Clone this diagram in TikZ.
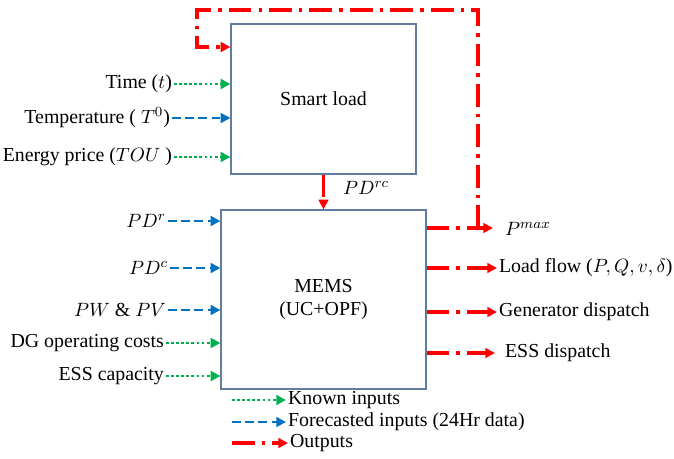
\documentclass[tikz,border=0pt]{standalone}
\usepackage{fontspec}
\setmainfont{Liberation Serif}
\newfontfamily\tnrfont{Liberation Serif}
\usetikzlibrary{arrows.meta,positioning}

\definecolor{knowngreen}{RGB}{0,176,80}
\definecolor{fcblue}{RGB}{0,112,192}
\definecolor{outred}{RGB}{255,0,0}
\definecolor{boxline}{RGB}{96,124,158}

\tikzset{
  every node/.style={font=\tnrfont\fontsize{11.3}{13.5}\selectfont, inner sep=1pt},
  blockbox/.style={draw=boxline, line width=0.7pt, fill=white, inner sep=0pt},
  tip/.style={-{Triangle[length=5.5pt,width=5.5pt]}},
  known/.style={tip, knowngreen, line width=1.6pt, dash pattern=on 1.6pt off 1.3pt},
  forecast/.style={tip, fcblue, line width=1.6pt, dash pattern=on 5pt off 2.5pt},
  output/.style={tip, outred, line width=1.8pt, dash pattern=on 13pt off 4pt on 2pt off 4pt},
  feedback/.style={outred, line width=1.8pt, dash pattern=on 13pt off 4pt on 2pt off 4pt},
}

\begin{document}
\begin{tikzpicture}[x=0.02cm,y=-0.02cm]
      \useasboundingbox (0,0) rectangle (674,458);

        \node[blockbox, minimum width=3.7cm, minimum height=3cm] (sl) at (323.5,99) {Smart load};
        \node[blockbox, minimum width=4.1cm, minimum height=3.58cm, align=center] (mems) at (323.5,299.5) {MEMS\\(UC+OPF)};

        % smart load inputs
        \node[anchor=east] (i1) at (174,84) {Time ($t$)};
        \node[anchor=east] (i2) at (172,118) {Temperature ( $T^{0}$)};
        \node[anchor=east] (i3) at (174,157) {Energy price ($TOU$ )};

        \draw[known] (i1.east) -- (i1.east -| sl.west);
        \draw[forecast] (i2.east) -- (i2.east -| sl.west);
        \draw[known] (i3.east) -- (i3.east -| sl.west);

        % mems inputs
        \node[anchor=east] (m1) at (168,221) {$PD^{r}$};
        \node[anchor=east] (m2) at (170,268) {$PD^{c}$};
        \node[anchor=east] (m3) at (168,310) {$PW$ \& $PV$};
        \node[anchor=east] (m4) at (166,343) {DG operating costs};
        \node[anchor=east] (m5) at (166,376) {ESS capacity};

        \draw[forecast] (m1.east) -- (m1.east -| mems.west);
        \draw[forecast] (m2.east) -- (m2.east -| mems.west);
        \draw[forecast] (m3.east) -- (m3.east -| mems.west);
        \draw[known] (m4.east) -- (m4.east -| mems.west);
        \draw[known] (m5.east) -- (m5.east -| mems.west);

        % smart load to mems
        \draw[output] (sl.south) -- (mems.north);
        \node[anchor=west] (rc) at (341,188) {$PD^{rc}$};

        % outputs
        \node[anchor=west] (f1) at (503,229) {$P^{max}$};
        \node[anchor=west] (f2) at (497,268) {Load flow ($P,Q,v,\delta$)};
        \node[anchor=west] (f3) at (497,312) {Generator dispatch};
        \node[anchor=west] (f4) at (503,353) {ESS dispatch};

        \coordinate (c1) at (478,228);
        \coordinate (c2) at (197,10);
        \draw[feedback] (c1 -| mems.east) -- (c1);
        \draw[output] (c1) |- (c2) |- (sl.west |- 0,47);
        \draw[output] (c1) -- (493,228);
        \draw[output] (f2.west -| mems.east) -- (f2.west);
        \draw[output] (f3.west -| mems.east) -- (f3.west);
        \draw[output] (f4.west -| mems.east) -- (495,353);

        % legend
        \node[anchor=west] (k1) at (286,400) {Known inputs};
        \node[anchor=west] (k2) at (286,422) {Forecasted inputs (24Hr data)};
        \node[anchor=west] (k3) at (288,443) {Outputs};
        \draw[known] (232,400) -- (k1.west);
        \draw[forecast] (232,422) -- (k2.west);
        \draw[output] (232,443) -- (k3.west);
    \end{tikzpicture}
\end{document}
